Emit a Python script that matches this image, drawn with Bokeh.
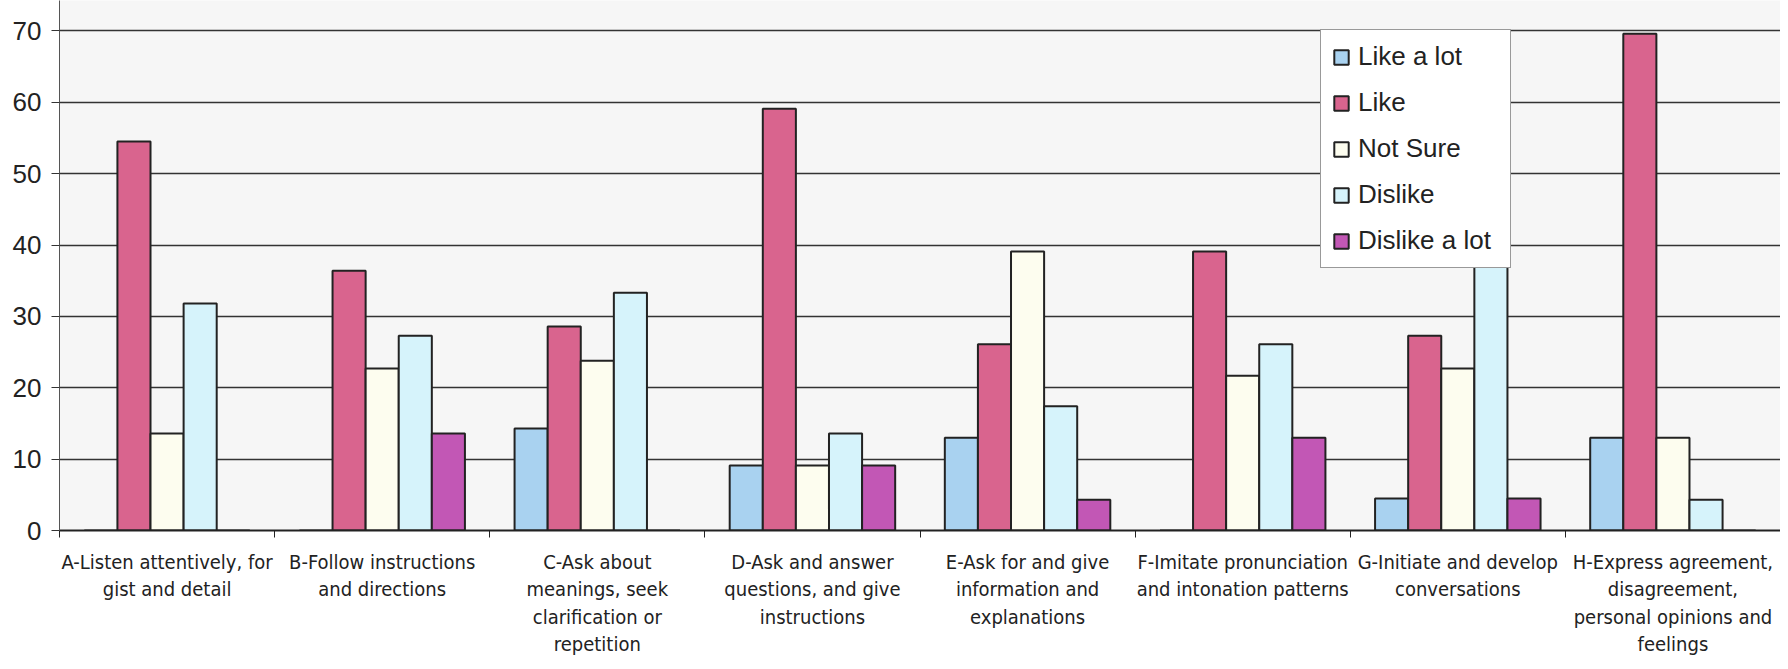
from bokeh.plotting import figure
from bokeh.models import ColumnDataSource, Range1d, FixedTicker, Legend, LegendItem
from bokeh.embed import file_html
from bokeh.resources import INLINE

categories = [
    "A-Listen attentively, for\ngist and detail",
    "B-Follow instructions\nand directions",
    "C-Ask about\nmeanings, seek\nclarification or\nrepetition",
    "D-Ask and answer\nquestions, and give\ninstructions",
    "E-Ask for and give\ninformation and\nexplanations",
    "F-Imitate pronunciation\nand intonation patterns",
    "G-Initiate and develop\nconversations",
    "H-Express agreement,\ndisagreement,\npersonal opinions and\nfeelings",
]
series_names = ["Like a lot", "Like", "Not Sure", "Dislike", "Dislike a lot"]
like_a_lot = [0, 0, 14.3, 9.1, 13.0, 0, 4.5, 13.0]
like = [54.5, 36.4, 28.6, 59.1, 26.1, 39.1, 27.3, 69.6]
not_sure = [13.6, 22.7, 23.8, 9.1, 39.1, 21.7, 22.7, 13.0]
dislike = [31.8, 27.3, 33.3, 13.6, 17.4, 26.1, 40.9, 4.3]
dislike_a_lot = [0, 13.6, 0, 9.1, 4.3, 13.0, 4.5, 0]
y_ticks = [0, 10, 20, 30, 40, 50, 60, 70]

series_values = [like_a_lot, like, not_sure, dislike, dislike_a_lot]
colors = ["#a9d2f0", "#d9648e", "#fdfdef", "#d6f3fb", "#c257b5"]

n = len(categories)
bar_w = 1.0 / 6.5
centers = [i + 0.5 for i in range(n)]

narrow = "'Liberation Sans Narrow', 'Arial Narrow', 'DejaVu Sans Condensed', 'Roboto Condensed', Roboto, sans-serif"

p = figure(frame_width=1721, frame_height=530, output_backend="svg", toolbar_location=None,
           x_range=Range1d(0, n), y_range=Range1d(0, 74.27),
           min_border_left=59, min_border_right=0, min_border_top=0, min_border_bottom=131)
p.background_fill_color = "#f6f6f6"
p.border_fill_color = "#ffffff"
p.outline_line_color = None

items = []
for k, (name, vals, col) in enumerate(zip(series_names, series_values, colors)):
    off = (k - 2) * bar_w
    src = ColumnDataSource(dict(x=[c + off for c in centers], top=vals))
    r = p.vbar(x="x", top="top", bottom=0, width=bar_w, source=src,
               fill_color=col, line_color="#222222", line_width=2)
    items.append(LegendItem(label=name, renderers=[r]))

# axes
p.xaxis.ticker = FixedTicker(ticks=centers, minor_ticks=list(range(n + 1)))
p.xaxis.major_label_overrides = {c: lab for c, lab in zip(centers, categories)}
p.xaxis.major_tick_out = 0
p.xaxis.major_tick_in = 0
p.xaxis.minor_tick_out = 7
p.xaxis.minor_tick_in = 0
p.xaxis.axis_line_color = "#222222"
p.xaxis.axis_line_width = 2
p.xaxis.minor_tick_line_color = "#222222"
p.xaxis.major_label_text_font = narrow
p.xaxis.major_label_text_font_size = "20px"
p.xaxis.major_label_text_color = "#222222"
p.xaxis.major_label_text_line_height = 1.15
p.xaxis.major_label_standoff = 12

p.yaxis.ticker = FixedTicker(ticks=y_ticks)
p.yaxis.major_tick_out = 8
p.yaxis.major_tick_in = 0
p.yaxis.minor_tick_out = 0
p.yaxis.minor_tick_in = 0
p.yaxis.axis_line_color = "#555555"
p.yaxis.axis_line_width = 1
p.yaxis.major_tick_line_color = "#333333"
p.yaxis.major_label_text_font = "Liberation Sans"
p.yaxis.major_label_text_font_size = "26px"
p.yaxis.major_label_text_color = "#222222"
p.yaxis.major_label_standoff = 10

p.xgrid.grid_line_color = None
p.ygrid.ticker = FixedTicker(ticks=y_ticks[1:])
p.ygrid.grid_line_color = "#333333"
p.ygrid.grid_line_width = 1.5

legend = Legend(items=items, location=(1261, 262))
legend.label_text_font = "Liberation Sans"
legend.label_text_font_size = "26px"
legend.label_text_color = "#222222"
legend.glyph_width = 18
legend.glyph_height = 18
legend.label_height = 20
legend.label_width = 141
legend.label_standoff = 8
legend.spacing = 15
legend.padding = 11
legend.margin = 0
legend.border_line_color = "#333333"
legend.border_line_width = 1
legend.background_fill_color = "#ffffff"
legend.background_fill_alpha = 1.0
p.add_layout(legend, "center")

open("out.html", "w").write(file_html(p, INLINE))
